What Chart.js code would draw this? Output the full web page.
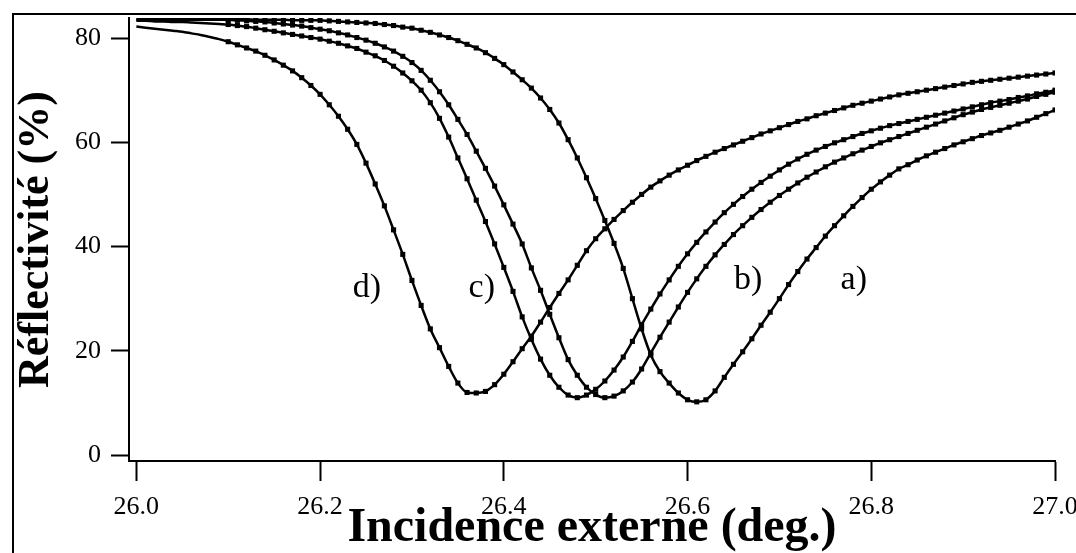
<!DOCTYPE html>
<html>
<head>
<meta charset="utf-8">
<script src="https://cdn.jsdelivr.net/npm/chart.js@4.4.0/dist/chart.umd.min.js"></script>
<style>
body{margin:0;background:#fff;}
#graph{display:block;}
</style>
</head>
<body>
<canvas id="graph" width="1076" height="553"></canvas>
<script>
// incidence angles (deg.), one reading every 0.01
let angles = [
 26.00,26.01,26.02,26.03,26.04,26.05,26.06,26.07,26.08,26.09,
 26.10,26.11,26.12,26.13,26.14,26.15,26.16,26.17,26.18,26.19,
 26.20,26.21,26.22,26.23,26.24,26.25,26.26,26.27,26.28,26.29,
 26.30,26.31,26.32,26.33,26.34,26.35,26.36,26.37,26.38,26.39,
 26.40,26.41,26.42,26.43,26.44,26.45,26.46,26.47,26.48,26.49,
 26.50,26.51,26.52,26.53,26.54,26.55,26.56,26.57,26.58,26.59,
 26.60,26.61,26.62,26.63,26.64,26.65,26.66,26.67,26.68,26.69,
 26.70,26.71,26.72,26.73,26.74,26.75,26.76,26.77,26.78,26.79,
 26.80,26.81,26.82,26.83,26.84,26.85,26.86,26.87,26.88,26.89,
 26.90,26.91,26.92,26.93,26.94,26.95,26.96,26.97,26.98,26.99,
 27.00
];
// reflectivity (%) for each curve
let curveA = [
 83.7,83.7,83.7,83.7,83.7,83.7,83.6,83.6,83.6,83.6,
 83.6,83.6,83.6,83.5,83.5,83.5,83.5,83.4,83.4,83.4,
 83.4,83.3,83.2,83.1,83.0,82.9,82.8,82.6,82.4,82.1,
 81.9,81.5,81.1,80.6,80.1,79.5,78.8,78.1,77.2,76.1,
 74.9,73.5,72.0,70.4,68.5,66.3,63.7,60.5,57.0,53.2,
 49.2,45.0,40.6,35.8,30.0,24.2,19.2,16.0,13.8,11.9,
 10.6,10.2,10.6,12.3,14.9,17.4,19.8,22.3,24.9,27.4,
 30.0,32.7,35.2,37.6,39.8,42.0,44.0,45.9,47.7,49.4,
 51.0,52.4,53.7,54.9,55.7,56.6,57.4,58.1,58.8,59.5,
 60.1,60.7,61.3,61.8,62.3,62.9,63.5,64.1,64.8,65.5,
 66.2
];
let curveB = [
 83.5,83.5,83.5,83.5,83.5,83.5,83.5,83.5,83.5,83.5,
 83.5,83.4,83.3,83.2,83.1,82.9,82.7,82.5,82.3,82.0,
 81.7,81.4,81.0,80.6,80.1,79.6,79.0,78.3,77.5,76.5,
 75.3,73.8,71.9,69.7,67.2,64.4,61.5,58.3,55.0,51.6,
 48.0,44.3,40.5,35.9,31.6,27.0,22.5,18.3,15.3,13.0,
 11.6,11.0,11.3,12.3,14.0,16.5,19.6,22.6,25.5,28.4,
 31.2,33.8,36.2,38.4,40.4,42.3,44.0,45.6,47.1,48.5,
 49.8,51.0,52.2,53.3,54.3,55.3,56.2,57.0,57.8,58.5,
 59.2,59.9,60.5,61.1,61.7,62.3,62.9,63.5,64.1,64.7,
 65.3,65.8,66.3,66.7,67.1,67.5,67.9,68.3,68.8,69.2,
 69.6
];
let curveC = [
 83.3,83.3,83.2,83.2,83.1,83.1,83.0,82.9,82.8,82.7,
 82.6,82.4,82.2,81.9,81.6,81.3,81.0,80.7,80.4,80.1,
 79.8,79.4,79.0,78.5,78.0,77.3,76.6,75.7,74.6,73.3,
 71.8,70.0,67.6,64.6,61.0,57.0,53.0,48.9,44.8,40.5,
 36.0,31.4,26.5,22.2,18.4,15.3,13.0,11.5,11.0,11.5,
 12.6,14.2,16.3,18.8,21.8,25.0,28.0,30.9,33.6,36.2,
 38.6,40.8,42.8,44.7,46.5,48.1,49.6,51.0,52.3,53.5,
 54.7,55.8,56.8,57.7,58.5,59.2,59.9,60.5,61.1,61.7,
 62.2,62.7,63.2,63.6,64.0,64.4,64.8,65.2,65.6,66.0,
 66.4,66.8,67.2,67.6,67.9,68.2,68.6,68.9,69.3,69.6,
 70.0
];
let curveD = [
 82.2,82.0,81.8,81.6,81.4,81.2,80.9,80.6,80.2,79.8,
 79.3,78.7,78.1,77.5,76.7,75.8,74.8,73.7,72.4,70.9,
 69.2,67.2,65.0,62.5,59.6,56.0,52.0,47.8,43.2,38.5,
 33.5,28.7,24.2,20.6,17.0,13.8,12.0,11.9,12.2,13.5,
 15.5,17.9,20.4,22.8,25.5,28.3,31.0,33.6,36.4,39.2,
 41.5,43.4,45.2,46.9,48.5,50.0,51.4,52.6,53.7,54.7,
 55.6,56.5,57.3,58.1,58.8,59.5,60.2,60.9,61.6,62.2,
 62.8,63.4,64.0,64.5,65.1,65.6,66.1,66.6,67.1,67.5,
 67.9,68.3,68.7,69.1,69.4,69.7,70.0,70.3,70.6,70.9,
 71.2,71.5,71.7,71.9,72.1,72.3,72.5,72.7,72.9,73.1,
 73.3
];
let curveNames = ['a)', 'b)', 'c)', 'd)'];
let xTicks = [26.0, 26.2, 26.4, 26.6, 26.8, 27.0];
let yTicks = [0, 20, 40, 60, 80];

// where the curve letters sit, in axis units
let labelAt = [[26.781, 33.6], [26.666, 33.6], [26.376, 32.0], [26.251, 32.0]];

const serif = '"Liberation Serif", "Times New Roman", serif';

function points(values){
    return angles.map(function(a, i){ return {x: a, y: values[i]}; });
}

let datasets = [];
[curveA, curveB, curveC, curveD].forEach(function(values, k){
    // fitted curve
    datasets.push({
        label: curveNames[k] + ' fit',
        data: points(values),
        borderColor: '#000',
        borderWidth: 2.5,
        pointRadius: 0,
        fill: false,
        cubicInterpolationMode: 'monotone'
    });
    // measured points
    datasets.push({
        label: curveNames[k],
        data: points(values),
        showLine: false,
        pointStyle: 'rect',
        pointRadius: function(c){ return angles[c.dataIndex] < 26.095 ? 0 : 3.6; },
        pointBackgroundColor: '#000',
        pointBorderWidth: 0
    });
});

const letters = {
    id: 'letters',
    afterDatasetsDraw: function(chart){
        let ctx = chart.ctx;
        let xs = chart.scales.x, ys = chart.scales.y;
        ctx.save();
        ctx.fillStyle = '#000';
        ctx.font = '34px ' + serif;
        ctx.textAlign = 'center';
        ctx.textBaseline = 'middle';
        curveNames.forEach(function(n, i){
            ctx.fillText(n, xs.getPixelForValue(labelAt[i][0]), ys.getPixelForValue(labelAt[i][1]));
        });
        // frame of the scanned figure
        ctx.strokeStyle = '#000';
        ctx.lineWidth = 2;
        ctx.beginPath();
        ctx.moveTo(13, 553);
        ctx.lineTo(13, 14);
        ctx.lineTo(1076, 14);
        ctx.stroke();
        ctx.restore();
    }
};

new Chart(document.getElementById('graph'), {
    type: 'line',
    data: {datasets: datasets},
    plugins: [letters],
    options: {
        responsive: false,
        animation: false,
        devicePixelRatio: 1,
        layout: {padding: {left: 0, right: 21, top: 18, bottom: 0}},
        plugins: {legend: {display: false}, tooltip: {enabled: false}},
        scales: {
            x: {
                type: 'linear',
                min: 25.992,
                max: 27.0,
                afterBuildTicks: function(s){ s.ticks = xTicks.map(function(v){ return {value: v}; }); },
                afterFit: function(s){ s.height = 92; s.paddingLeft = 0; s.paddingRight = 0; },
                grid: {drawOnChartArea: false, tickLength: 20, tickWidth: 2, tickColor: '#000'},
                border: {color: '#000', width: 2},
                ticks: {
                    color: '#000', padding: 11, maxRotation: 0, autoSkip: false,
                    font: {family: serif, size: 26},
                    callback: function(v){ return v.toFixed(1); }
                },
                title: {
                    display: true, text: 'Incidence externe (deg.)', color: '#000',
                    font: {family: serif, size: 48, weight: 'bold', lineHeight: 1},
                    padding: {top: 0, bottom: 0}
                }
            },
            y: {
                min: -1.15,
                max: 83.85,
                afterBuildTicks: function(s){ s.ticks = yTicks.map(function(v){ return {value: v}; }); },
                afterFit: function(s){ s.width = 129; s.paddingTop = 0; s.paddingBottom = 0; },
                grid: {drawOnChartArea: false, tickLength: 18, tickWidth: 2, tickColor: '#000'},
                border: {color: '#000', width: 2},
                ticks: {color: '#000', padding: 10, font: {family: serif, size: 26}},
                title: {
                    display: true, text: 'Réflectivité (%)', color: '#000',
                    font: {family: serif, size: 44, weight: 'bold', lineHeight: 1},
                    padding: {top: 15, bottom: 0}
                }
            }
        }
    }
});
</script>
</body>
</html>
